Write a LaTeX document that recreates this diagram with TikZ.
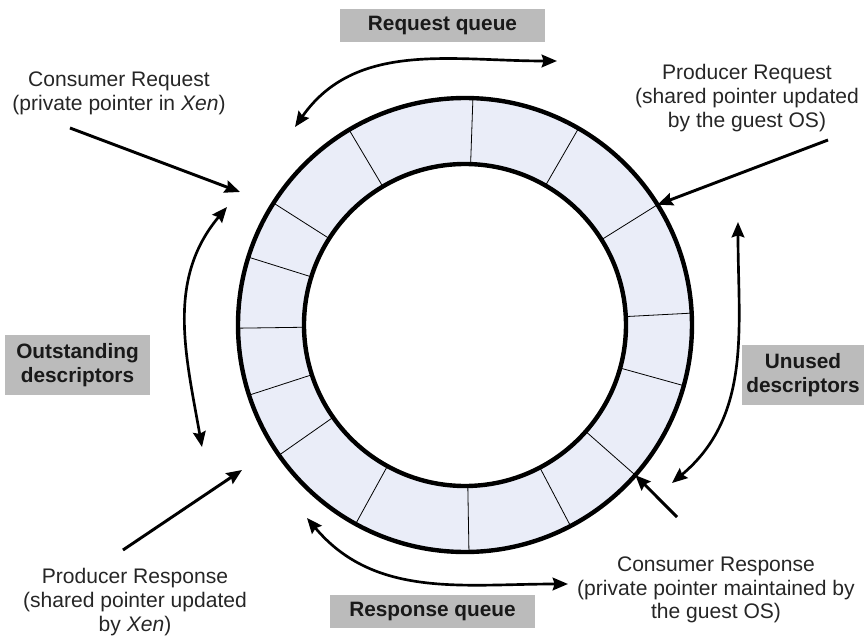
\documentclass[tikz,border=0pt]{standalone}
\usepackage{fontspec}
\setmainfont{Liberation Sans}
\usetikzlibrary{arrows.meta}
\definecolor{slotfill}{RGB}{234,237,248}
\definecolor{tagfill}{RGB}{187,187,187}
\tikzset{tag/.style={fill=tagfill,text=black!90,align=center,inner sep=0pt,font=\bfseries\fontsize{15.6}{17.5}\selectfont},
  note/.style={align=center,text=black!85,font=\fontsize{15.8}{17.8}\selectfont},
  ptr/.style={-{Stealth[length=11.5pt,width=9.5pt,inset=1.5pt]},line width=2.2pt},
  span/.style={{Stealth[length=11.5pt,width=9.5pt,inset=1.5pt]}-{Stealth[length=11.5pt,width=9.5pt,inset=1.5pt]},line width=2pt}}

\begin{document}
\begin{tikzpicture}[x=0.75pt,y=0.75pt,line join=round]
\useasboundingbox (-465,-311) rectangle (403,325);
% --- ring of descriptors
\fill[slotfill,even odd rule] (0,0) circle (227) (0,0) circle (161);
\foreach \a in {88,60,32,3,-15.5,-41.4,-62.3,-89,-118.8,-145,-162,-179.2,162.6,147.5,120.7}
  \draw[line width=0.6pt] (\a:161) -- (\a:227);
\draw[line width=3.3pt] (0,0) circle (227) (0,0) circle (161);
% --- queue tags
\node[tag,minimum width=153.75pt,minimum height=24.75pt] (reqq) at (-22.5,299.5) {Request queue};
\node[tag,minimum width=153.75pt,minimum height=24.75pt] (rspq) at (-32.5,-286.5) {Response queue};
\node[tag,minimum width=108.75pt,minimum height=45pt] (outd) at (-387.5,-40) {Outstanding\\descriptors};
\node[tag,minimum width=91.5pt,minimum height=45pt] (unud) at (338,-50) {Unused\\descriptors};
% --- pointer notes
\node[note] (creq) at (-346,232) {Consumer Request\\(private pointer in \textit{Xen})};
\node[note] (preq) at (282,227) {Producer Request\\(shared pointer updated\\by the guest OS)};
\node[note] (prsp) at (-330,-277) {Producer Response\\(shared pointer updated\\by \textit{Xen})};
\node[note] (crsp) at (251,-265) {Consumer Response\\(private pointer maintained by\\the guest OS)};
% --- pointer arrows
\coordinate (creqA) at (-395,197); \coordinate (creqB) at (-225,133);
\coordinate (preqA) at (363,185);  \coordinate (preqB) at (32:227);
\coordinate (prspA) at (-342,-225); \coordinate (prspB) at (-223,-145);
\coordinate (crspA) at (212,-192); \coordinate (crspB) at (-41.4:227);
\draw[ptr] (creqA) -- (creqB);
\draw[ptr] (preqA) -- (preqB);
\draw[ptr] (prspA) -- (prspB);
\draw[ptr] (crspA) -- (crspB);
% --- queue spans
\coordinate (reqL) at (-170,198); \coordinate (reqR) at (92,264);
\coordinate (rspL) at (-158,-193); \coordinate (rspR) at (103,-259);
\coordinate (outT) at (-238,118); \coordinate (outB) at (-263,-122);
\coordinate (unuT) at (273,103); \coordinate (unuB) at (207,-158);
\draw[span] (reqL) to[out=55,in=180] (reqR);
\draw[span] (rspL) to[out=-50,in=180] (rspR);
\draw[span] (outB) to[out=100,in=-130] (outT);
\draw[span] (unuB) to[out=40,in=-90] (unuT);
\end{tikzpicture}
\end{document}
